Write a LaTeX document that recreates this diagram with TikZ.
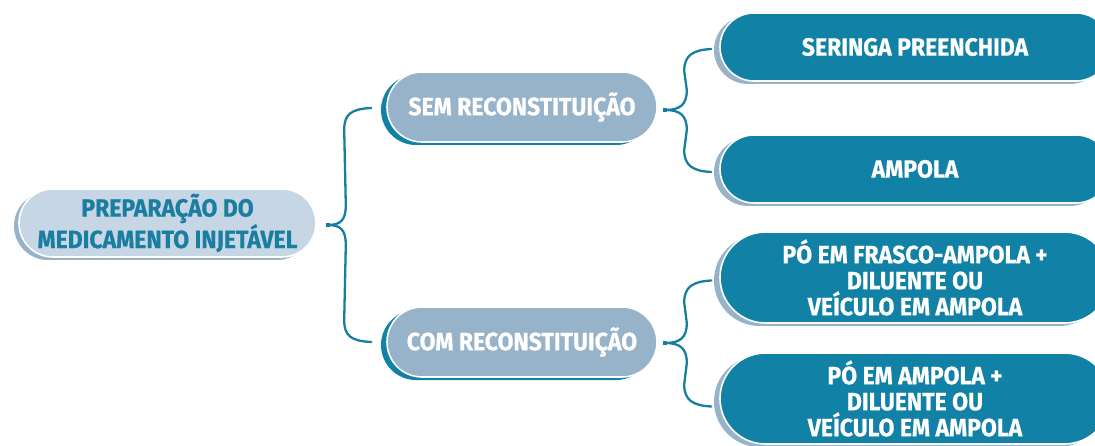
\documentclass[tikz,border=0pt]{standalone}
\usepackage{fontspec}
\setmainfont{Fira Sans}[FakeStretch=0.92, BoldFeatures={FakeBold=0.6}]
\usetikzlibrary{shapes.misc,calc}
\definecolor{teal}{HTML}{1181A5}
\definecolor{grayblue}{HTML}{97B3C9}
\definecolor{paleblue}{HTML}{C6D6E5}
\definecolor{roottext}{HTML}{1A7EA0}
\definecolor{bracecol}{HTML}{167EA0}
\tikzset{
  pill/.style={shape=rounded rectangle, inner sep=0pt, draw=white, line width=1.6pt,
    align=center, font=\fontsize{25}{24}\selectfont\bfseries},
  rootbox/.style={pill, fill=paleblue, text=roottext,
    preaction={fill=grayblue, draw=none, transform canvas={xshift=-5pt,yshift=-3pt}}},
  midbox/.style={pill, fill=grayblue, text=white,
    preaction={fill=teal, draw=none, transform canvas={xshift=-6pt,yshift=-3pt}}},
  leafbox/.style={pill, fill=teal, text=white, font=\fontsize{25}{26}\selectfont\bfseries,
    preaction={fill=grayblue, draw=none, transform canvas={xshift=-6pt,yshift=-3pt}}},
  bracestyle/.style={draw=bracecol, line width=2.3pt, line cap=round},
  bracetip/.style={fill=bracecol, draw=none, minimum width=4pt, minimum height=3.5pt, inner sep=0pt}
}
\begin{document}
\begin{tikzpicture}[x=1pt,y=-1pt]
\useasboundingbox (0,0) rectangle (1095,446);
\clip (0,0) rectangle (1095,446);
\node[rootbox, minimum width=297pt, minimum height=68pt] (root) at (167.5,223) {PREPARAÇÃO DO\\MEDICAMENTO INJETÁVEL};
\node[midbox, minimum width=270pt, minimum height=70pt] (sem) at (522,107) {SEM RECONSTITUIÇÃO};
\node[midbox, minimum width=270pt, minimum height=70pt] (com) at (522,342) {COM RECONSTITUIÇÃO};
\node[leafbox, minimum width=390pt, minimum height=68pt] (l1) at (915,47) {SERINGA PREENCHIDA};
\node[leafbox, minimum width=390pt, minimum height=68pt] (l2) at (915,169) {AMPOLA};
\node[leafbox, minimum width=390pt, minimum height=91pt] (l3) at (915,277.5) {PÓ EM FRASCO-AMPOLA +\\DILUENTE OU\\VEÍCULO EM AMPOLA};
\node[leafbox, minimum width=390pt, minimum height=91pt] (l4) at (915,398.5) {PÓ EM AMPOLA +\\DILUENTE OU\\VEÍCULO EM AMPOLA};
% brace 1
\coordinate (b1t) at ($(sem.west)+(-15,1)$);
\coordinate (b1b) at ($(com.west)+(-15,0)$);
\coordinate (b1m) at ($(root.east)+(11,2)$);
\draw[bracestyle] (b1t) .. controls ($(b1t)+(-20,1)$) and ($(b1t)+(-27,6)$) .. ($(b1t)+(-27,22)$)
  -- ($(b1m)+(18,-20)$) .. controls ($(b1m)+(18,-5)$) and ($(b1m)+(13,0)$) .. (b1m)
  .. controls ($(b1m)+(13,0)$) and ($(b1m)+(18,5)$) .. ($(b1m)+(18,20)$)
  -- ($(b1b)+(-27,-22)$) .. controls ($(b1b)+(-27,-6)$) and ($(b1b)+(-20,-1)$) .. (b1b);
\node[bracetip] (t1) at (b1m) {};
% brace 2
\coordinate (b2t) at ($(l1.west)+(-8,2)$);
\coordinate (b2b) at ($(l2.west)+(-8,3)$);
\coordinate (b2m) at ($(sem.east)+(7,3)$);
\draw[bracestyle] (b2t) .. controls ($(b2t)+(-18,1)$) and ($(b2t)+(-27,6)$) .. ($(b2t)+(-27,22)$)
  -- ($(b2m)+(22,-20)$) .. controls ($(b2m)+(22,-5)$) and ($(b2m)+(15,0)$) .. (b2m)
  .. controls ($(b2m)+(15,0)$) and ($(b2m)+(22,5)$) .. ($(b2m)+(22,20)$)
  -- ($(b2b)+(-27,-22)$) .. controls ($(b2b)+(-27,-6)$) and ($(b2b)+(-18,-1)$) .. (b2b);
\node[bracetip] (t2) at (b2m) {};
% brace 3
\coordinate (b3t) at ($(l3.west)+(-8,3)$);
\coordinate (b3b) at ($(l4.west)+(-8,8)$);
\coordinate (b3m) at ($(com.east)+(7,1)$);
\draw[bracestyle] (b3t) .. controls ($(b3t)+(-18,1)$) and ($(b3t)+(-27,6)$) .. ($(b3t)+(-27,22)$)
  -- ($(b3m)+(22,-20)$) .. controls ($(b3m)+(22,-5)$) and ($(b3m)+(15,0)$) .. (b3m)
  .. controls ($(b3m)+(15,0)$) and ($(b3m)+(22,5)$) .. ($(b3m)+(22,20)$)
  -- ($(b3b)+(-27,-22)$) .. controls ($(b3b)+(-27,-6)$) and ($(b3b)+(-18,-1)$) .. (b3b);
\node[bracetip] (t3) at (b3m) {};
\end{tikzpicture}
\end{document}
